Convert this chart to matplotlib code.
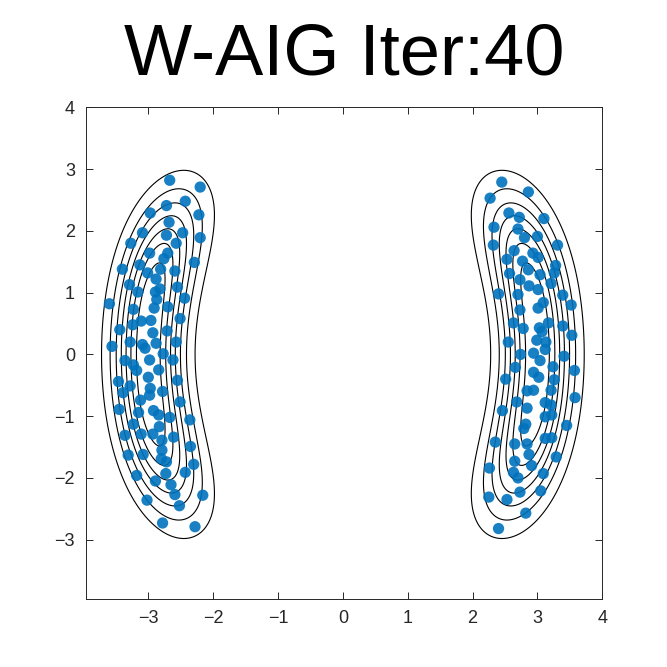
import numpy as np
import matplotlib
matplotlib.use("Agg")
import matplotlib.pyplot as plt

plt.rcParams['font.family'] = ['Liberation Sans', 'DejaVu Sans']

# particle positions after 40 iterations
left_x = [-2.67, -2.20, -2.72, -2.43, -2.97, -2.22, -2.68, -3.09, -2.72, -2.47,
          -2.20, -3.27, -2.57, -2.98, -2.70, -2.76, -2.29, -3.40, -3.13, -2.81,
          -3.01, -2.59, -2.88, -3.29, -2.55, -3.16, -2.82, -2.89, -2.44, -3.60,
          -2.87, -3.23, -2.91, -2.70, -2.51, -2.96, -3.11, -3.24, -3.44, -2.71,
          -2.93, -3.28, -2.88, -3.09, -2.57, -3.56, -3.05, -2.77,
          -3.36, -3.23, -2.98, -2.62, -3.18, -2.84, -3.00, -3.46, -3.28, -3.39,
          -2.55, -2.97, -2.98, -2.78, -3.12, -2.51, -3.45, -3.15, -2.92, -2.84,
          -2.67, -2.36, -3.23, -2.83, -3.36, -3.11, -2.93, -2.61, -2.79, -2.35,
          -3.31, -3.08, -2.79, -2.80, -2.72, -2.30, -3.18, -2.73, -2.43, -2.89,
          -2.65, -2.59, -2.16, -3.02, -2.52, -2.78, -2.28]
left_y = [2.82, 2.71, 2.41, 2.48, 2.29, 2.26, 2.14, 1.97, 1.93, 1.97,
          1.89, 1.80, 1.80, 1.64, 1.64, 1.55, 1.49, 1.38, 1.45, 1.38,
          1.32, 1.35, 1.22, 1.13, 1.09, 1.01, 1.06, 1.01, 0.91, 0.82,
          0.89, 0.73, 0.75, 0.77, 0.58, 0.55, 0.54, 0.48, 0.40, 0.38,
          0.35, 0.20, 0.18, 0.16, 0.20, 0.13, 0.10, 0.01,
          -0.10, -0.17, -0.09, -0.09, -0.26, -0.25, -0.37, -0.44, -0.51, -0.62,
          -0.42, -0.55, -0.66, -0.60, -0.74, -0.77, -0.89, -0.94, -0.91, -0.98,
          -1.02, -1.06, -1.13, -1.17, -1.31, -1.29, -1.29, -1.34, -1.39, -1.49,
          -1.63, -1.62, -1.55, -1.69, -1.74, -1.78, -1.96, -1.93, -1.91, -2.05,
          -2.11, -2.27, -2.28, -2.36, -2.45, -2.73, -2.79]

right_x = [2.45, 2.27, 2.86, 2.56, 2.72, 3.10, 2.33, 2.70, 2.80, 3.00,
           2.32, 3.31, 2.64, 2.53, 2.93, 3.01, 2.77, 3.28, 2.86, 3.26,
           2.57, 3.04, 2.73, 3.21, 2.87, 3.01, 2.40, 2.70, 3.39, 3.09,
           3.01, 3.52, 2.73, 2.63, 3.17, 2.78, 3.03, 3.39, 3.07, 3.53,
           2.55, 2.99, 3.13,
           2.74, 2.94, 3.12, 3.04, 3.41, 2.66, 3.24, 3.57, 2.51, 2.94,
           3.02, 3.26, 2.84, 2.94, 3.21, 2.68, 3.58, 3.12, 3.21, 2.46,
           2.84, 3.12, 3.22, 3.45, 2.82, 2.79, 2.35, 2.65, 3.12, 3.22,
           2.84, 2.87, 3.29, 2.65, 2.26, 2.91, 2.63, 2.70, 3.09, 2.73,
           3.05, 2.25, 2.53, 2.82, 2.40]
right_y = [2.79, 2.53, 2.63, 2.29, 2.22, 2.20, 2.06, 2.03, 1.89, 1.91,
           1.77, 1.77, 1.68, 1.54, 1.64, 1.57, 1.51, 1.44, 1.37, 1.32,
           1.31, 1.29, 1.21, 1.15, 1.11, 1.05, 0.98, 0.97, 0.96, 0.84,
           0.75, 0.80, 0.72, 0.51, 0.51, 0.42, 0.43, 0.46, 0.37, 0.31,
           0.20, 0.23, 0.20,
           0.00, 0.02, 0.08, -0.10, -0.03, -0.21, -0.20, -0.26, -0.40, -0.29,
           -0.37, -0.41, -0.59, -0.58, -0.58, -0.77, -0.70, -0.78, -0.82, -0.91,
           -0.87, -1.01, -0.98, -1.15, -1.13, -1.20, -1.42, -1.45, -1.36, -1.35,
           -1.45, -1.62, -1.66, -1.73, -1.84, -1.80, -1.91, -2.00, -1.93, -2.23,
           -2.21, -2.31, -2.35, -2.57, -2.82]

contour_levels = [0.125, 0.25, 0.375, 0.5, 0.625, 0.75, 0.875]
title_text = 'W-AIG Iter:40'


def target_density(x, y):
    # double banana target
    r = np.sqrt(x ** 2 + y ** 2)
    return np.exp(-2 * (r - 3) ** 2) * (np.exp(-2 * (x - 3) ** 2) + np.exp(-2 * (x + 3) ** 2))


fig = plt.figure(figsize=(6.67, 6.67), dpi=100, facecolor='w')
ax = fig.add_axes([0.129, 0.102, 0.774, 0.737])

gx = np.linspace(-4, 4, 500)
gy = np.linspace(-4, 4, 500)
X, Y = np.meshgrid(gx, gy)
ax.contour(X, Y, target_density(X, Y), levels=contour_levels, colors='black', linewidths=0.8)

ax.scatter(left_x + right_x, left_y + right_y, s=66, color='#0072BD', alpha=0.9,
           edgecolors='none', zorder=3)

ax.set_xlim(-3.96, 4)
ax.set_ylim(-3.96, 4)
ax.set_xticks(range(-3, 5))
ax.set_yticks(range(-3, 5))
ax.tick_params(direction='in', length=5, width=0.7, top=True, right=True,
               labelsize=13, colors='#262626', pad=8)
for sp in ax.spines.values():
    sp.set_linewidth(0.7)
    sp.set_color('#262626')

ax.set_title(title_text, fontsize=52, pad=24)

fig.savefig('out.png', dpi=100)
